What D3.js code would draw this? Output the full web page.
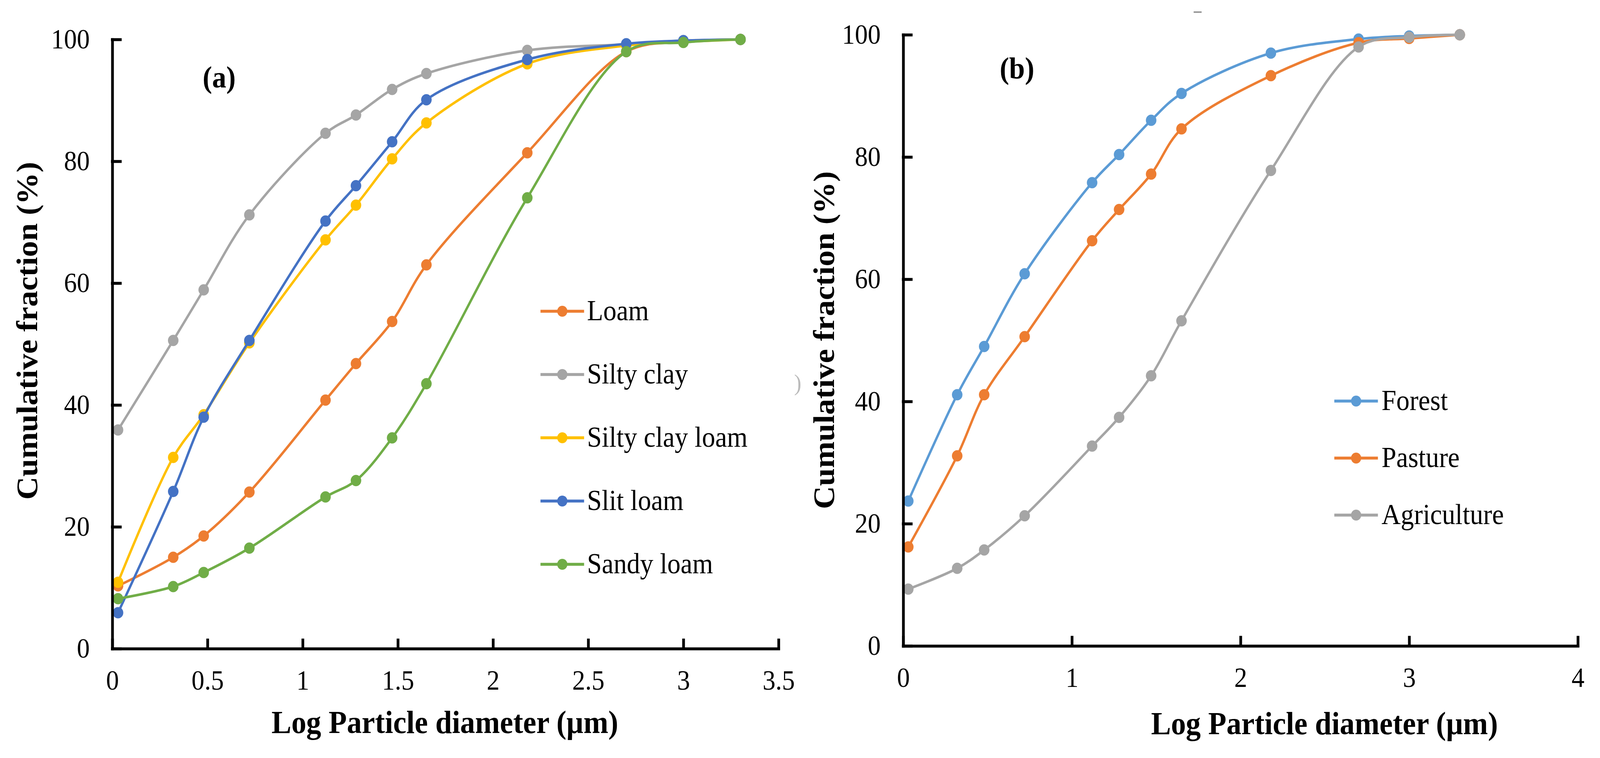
<!DOCTYPE html>
<html>
<head>
<meta charset="utf-8">
<script src="https://cdn.jsdelivr.net/npm/d3@7"></script>
<style>
  html, body { margin: 0; padding: 0; background: #fff; overflow: hidden; }
  svg { display: block; width: 100vw; height: 100vh; }
  text { font-family: "Liberation Serif", "Times New Roman", serif; }
</style>
</head>
<body>
<svg id="chart" viewBox="0 0 4402 1941" preserveAspectRatio="none"></svg>
<script>
// log10 of particle diameter, shared by both panels
const logDiameter = [0.03, 0.32, 0.48, 0.72, 1.12, 1.28, 1.47, 1.65, 2.18, 2.70, 3.00, 3.30];

// panel (a): soil texture classes
const textureNames = ["Loam", "Silty clay", "Silty clay loam", "Slit loam", "Sandy loam"];
const loam          = [10.3, 15.0, 18.5, 25.7, 40.8, 46.8, 53.7, 63.0, 81.4, 98.0, 99.6, 100];
const siltyClay     = [35.9, 50.6, 58.9, 71.2, 84.6, 87.6, 91.8, 94.4, 98.2, 99.2, 99.8, 100];
const siltyClayLoam = [10.9, 31.4, 38.4, 50.2, 67.1, 72.8, 80.4, 86.3, 96.0, 99.0, 99.6, 100];
const slitLoam      = [5.9, 25.8, 38.0, 50.6, 70.2, 76.0, 83.2, 90.1, 96.7, 99.3, 99.8, 100];
const sandyLoam     = [8.2, 10.2, 12.5, 16.5, 24.9, 27.6, 34.6, 43.5, 74.0, 98.0, 99.5, 100];

// panel (b): land use
const landUseNames = ["Forest", "Pasture", "Agriculture"];
const forest      = [23.7, 41.1, 49.0, 60.9, 75.8, 80.4, 86.0, 90.4, 97.0, 99.3, 99.8, 100];
const pasture     = [16.2, 31.1, 41.1, 50.6, 66.3, 71.4, 77.2, 84.6, 93.3, 98.7, 99.4, 100];
const agriculture = [9.3, 12.7, 15.7, 21.3, 32.7, 37.4, 44.2, 53.2, 77.8, 98.0, 99.6, 100];

const xTicksA = [0, 0.5, 1, 1.5, 2, 2.5, 3, 3.5];
const xTicksB = [0, 1, 2, 3, 4];
const yTicks = [0, 20, 40, 60, 80, 100];

const xTitle = "Log Particle diameter (µm)";
const yTitle = "Cumulative fraction (%)";

const svg = d3.select("#chart");

const panels = [
    {
        tag: "(a)", tagX: 603, tagY: 224,
        x: d3.scaleLinear().domain([0, 3.5]).range([309, 2142]),
        y: d3.scaleLinear().domain([0, 100]).range([1661, 101]),
        xTicks: xTicksA,
        series: [loam, siltyClay, siltyClayLoam, slitLoam, sandyLoam],
        names: textureNames,
        colors: ["#ED7D31", "#A5A5A5", "#FFC000", "#4472C4", "#70AD47"],
        legend: {x1: 1487, x2: 1607, tx: 1615, y0: 797, dy: 162},
        yTitleX: 102, yTitleY: 847,
        xTitleX: 1224, xTitleY: 1877
    },
    {
        tag: "(b)", tagX: 2798, tagY: 201,
        x: d3.scaleLinear().domain([0, 4]).range([2485, 4341]),
        y: d3.scaleLinear().domain([0, 100]).range([1654, 89]),
        xTicks: xTicksB,
        series: [forest, pasture, agriculture],
        names: landUseNames,
        colors: ["#5B9BD5", "#ED7D31", "#A5A5A5"],
        legend: {x1: 3671, x2: 3791, tx: 3801, y0: 1027, dy: 146},
        yTitleX: 2295, yTitleY: 871,
        xTitleX: 3644, xTitleY: 1880
    }
];

panels.forEach(p => {
    const g = svg.append("g");

    // series lines + markers (Excel-style smoothed lines)
    const line = d3.line()
        .x((d, i) => p.x(logDiameter[i]))
        .y(d => p.y(d))
        .curve(d3.curveCatmullRom.alpha(0.5));

    p.series.forEach((s, k) => {
        g.append("path")
            .attr("d", line(s))
            .attr("fill", "none")
            .attr("stroke", p.colors[k])
            .attr("stroke-width", 6.5);
        g.selectAll(null)
            .data(s)
            .join("circle")
            .attr("cx", (d, i) => p.x(logDiameter[i]))
            .attr("cy", d => p.y(d))
            .attr("r", 14.5)
            .attr("fill", p.colors[k]);
    });

    // axes, ticks pointing inwards like the source
    const xAxis = d3.axisBottom(p.x)
        .tickValues(p.xTicks)
        .tickFormat(d => d)
        .tickSizeInner(-22)
        .tickSizeOuter(0)
        .tickPadding(55);
    const yAxis = d3.axisLeft(p.y)
        .tickValues(yTicks)
        .tickSizeInner(-22)
        .tickSizeOuter(0)
        .tickPadding(62);

    const gx = g.append("g")
        .attr("transform", `translate(0,${p.y(0)})`)
        .call(xAxis);
    const gy = g.append("g")
        .attr("transform", `translate(${p.x(0)},0)`)
        .call(yAxis);

    [gx, gy].forEach(a => {
        a.selectAll("path, line")
            .attr("stroke", "#000")
            .attr("stroke-width", 7.5)
            .attr("stroke-linecap", "square");
        a.selectAll("text")
            .attr("fill", "#000")
            .style("font-family", "'Liberation Serif', serif")
            .style("font-size", "71px");
    });

    // panel tag
    g.append("text")
        .attr("x", p.tagX)
        .attr("y", p.tagY)
        .attr("text-anchor", "middle")
        .style("font-size", "78px")
        .style("font-weight", "bold")
        .text(p.tag);

    // axis titles
    g.append("text")
        .attr("x", p.xTitleX)
        .attr("y", p.xTitleY)
        .attr("text-anchor", "middle")
        .style("font-size", "82px")
        .style("font-weight", "bold")
        .text(xTitle);
    g.append("text")
        .attr("transform", `translate(${p.yTitleX},${p.yTitleY}) rotate(-90)`)
        .attr("text-anchor", "middle")
        .style("font-size", "82px")
        .style("font-weight", "bold")
        .text(yTitle);

    // legend
    const lg = g.append("g");
    p.names.forEach((name, k) => {
        const yy = p.legend.y0 + k * p.legend.dy;
        lg.append("line")
            .attr("x1", p.legend.x1).attr("x2", p.legend.x2)
            .attr("y1", yy).attr("y2", yy)
            .attr("stroke", p.colors[k])
            .attr("stroke-width", 7.5);
        lg.append("circle")
            .attr("cx", (p.legend.x1 + p.legend.x2) / 2)
            .attr("cy", yy)
            .attr("r", 14)
            .attr("fill", p.colors[k]);
        lg.append("text")
            .attr("x", p.legend.tx)
            .attr("y", yy)
            .attr("dy", "0.32em")
            .style("font-size", "73px")
            .text(name);
    });
});

// faint stray marks present in the source figure
svg.append("text").attr("x", 2185).attr("y", 1000)
    .style("font-size", "60px").attr("fill", "#bbb").text(")");
svg.append("line").attr("x1", 3284).attr("x2", 3306).attr("y1", 31).attr("y2", 31)
    .attr("stroke", "#999").attr("stroke-width", 4);
</script>
</body>
</html>
